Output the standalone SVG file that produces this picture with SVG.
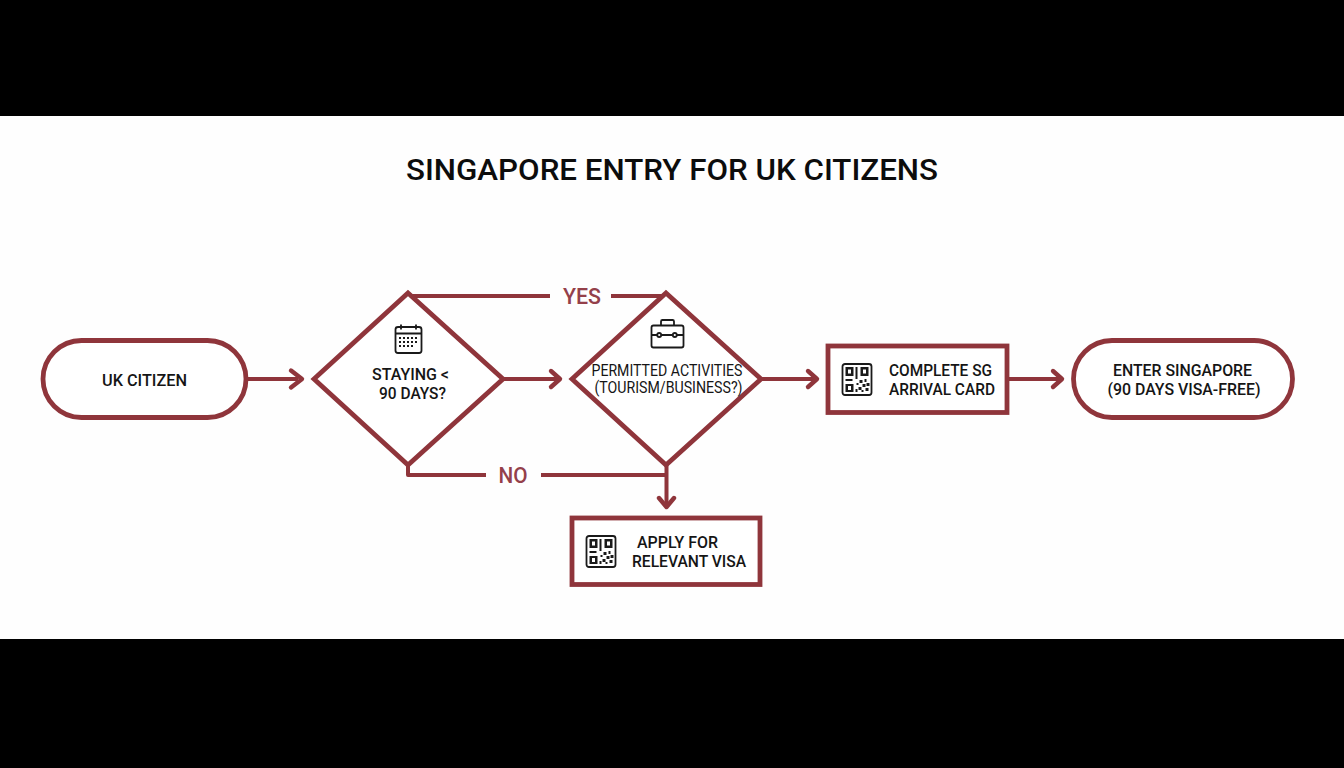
<svg xmlns="http://www.w3.org/2000/svg" width="1344" height="768" viewBox="0 0 1344 768">
<style>
.s{fill:#fff;stroke:#8f353b;stroke-width:4.8;stroke-linejoin:miter}
.c{fill:none;stroke:#8f353b;stroke-width:4;stroke-linejoin:round}
.h{fill:none;stroke:#8f353b;stroke-width:4.4;stroke-linecap:round;stroke-linejoin:round}
text{font-family:Roboto,"Liberation Sans",sans-serif;font-weight:500;fill:#151515;font-size:16px;text-anchor:middle}
.l{font-size:22px;fill:#94404a;font-weight:500}
.t{font-size:30px;font-weight:500;fill:#0c0c0c}
.i{fill:none;stroke:#1a1a1a;stroke-width:1.8;stroke-linejoin:round}
.f{fill:#1a1a1a}
</style>
<defs>
<g id="qr">
<rect class="i" x="1" y="1" width="29" height="31" rx="2.5"/>
<path class="f" d="M4 4h8v9H4zM19 4h8v9h-8zM4 21h8v8H4z"/>
<path d="M6.500 6.500h3v4h-3zM21.500 6.500h3v4h-3zM6.500 23h3v4h-3z" fill="#fff"/>
<path class="f" d="M14 4h2v12h-2zM4 16h7v2H4zM15 20h2v2h-2zM18 17h3v3h-3zM23 16h2v3h-2zM21 21h3v3h-3zM25 20h3v3h-3zM17 24h3v3h-3zM24 25h3v3h-3zM14 26h2v3h-2zM20 27h2v2h-2z"/>
</g>
</defs>
<rect width="1344" height="768" fill="#fefefe"/>
<rect width="1344" height="116" fill="#000"/>
<rect y="639" width="1344" height="129" fill="#000"/>
<text id="title" class="t" x="672" y="180" textLength="532" lengthAdjust="spacingAndGlyphs">SINGAPORE ENTRY FOR UK CITIZENS</text>

<g id="connectors">
<path class="c" d="M246 379H298"/>
<path class="h" d="M291 370.500L302 379L291 387.500"/>
<path class="c" d="M503 379H557"/>
<path class="h" d="M551 371L560 379L551 387"/>
<path class="c" d="M761 379H816"/>
<path class="h" d="M808 371L817 379L808 387"/>
<path class="c" d="M1008 379H1060"/>
<path class="h" d="M1053 371L1062 379L1053 387"/>
<path class="c" d="M408 296H550M611 296H666"/>
<path class="c" d="M408 465V475H486M541 475H666"/>
<path class="c" d="M666.500 465V506"/>
<path class="h" d="M659 498L666.500 507L674 498"/>
<text class="l" x="582" y="304" textLength="38" lengthAdjust="spacingAndGlyphs">YES</text>
<text class="l" x="513" y="483" textLength="29" lengthAdjust="spacingAndGlyphs">NO</text>
</g>

<g id="uk-citizen">
<rect class="s" x="43" y="340.500" width="203" height="77" rx="38.500"/>
<text x="144.500" y="386" textLength="85" lengthAdjust="spacingAndGlyphs">UK CITIZEN</text>
</g>

<g id="staying">
<path class="s" d="M408 293L503 379L408 465L314 379Z"/>
<g class="i">
<rect x="395.500" y="327" width="26" height="26" rx="2.500"/>
<path d="M395.500 333.500H421.500M401 324.500V329.500M416 324.500V329.500"/>
</g>
<path class="f" d="M399 337h2v2h-2zM403 337h2v2h-2zM407 337h2v2h-2zM411 337h2v2h-2zM415 337h2v2h-2zM399 341h2v2h-2zM403 341h2v2h-2zM407 341h2v2h-2zM411 341h2v2h-2zM415 341h2v2h-2zM399 345h2v2h-2zM403 345h2v2h-2zM407 345h2v2h-2zM411 345h2v2h-2z"/>
<text x="410.500" y="380" textLength="77" lengthAdjust="spacingAndGlyphs">STAYING &lt;</text>
<text x="412.500" y="399" textLength="67" lengthAdjust="spacingAndGlyphs">90 DAYS?</text>
</g>

<g id="permitted">
<path class="s" d="M666 293L761 379L666 465L572 379Z"/>
<g class="i">
<rect x="651.500" y="325.500" width="32" height="22" rx="2"/>
<path d="M661 325.500V321.500Q661 320 662.500 320H672.500Q674 320 674 321.500V325.500M651.500 335H657M661.500 335H672M677 335H683.500"/>
<circle cx="659.200" cy="335" r="2"/>
<circle cx="674.800" cy="335" r="2"/>
</g>
<text x="667" y="376" textLength="151" lengthAdjust="spacingAndGlyphs" style="font-weight:400">PERMITTED ACTIVITIES</text>
<text x="668.500" y="393" textLength="148" lengthAdjust="spacingAndGlyphs" style="font-weight:400">(TOURISM/BUSINESS?)</text>
</g>

<g id="arrival-card">
<rect class="s" x="828" y="346" width="179" height="66.500"/>
<use href="#qr" x="841.500" y="363"/>
<text x="940.500" y="375.500" textLength="103" lengthAdjust="spacingAndGlyphs">COMPLETE SG</text>
<text x="942" y="395" textLength="106" lengthAdjust="spacingAndGlyphs">ARRIVAL CARD</text>
</g>

<g id="enter">
<rect class="s" x="1073.500" y="340.500" width="219" height="77" rx="38.500"/>
<text x="1182.500" y="375.500" textLength="139" lengthAdjust="spacingAndGlyphs">ENTER SINGAPORE</text>
<text x="1184" y="395" textLength="153" lengthAdjust="spacingAndGlyphs">(90 DAYS VISA-FREE)</text>
</g>

<g id="visa">
<rect class="s" x="572" y="518" width="188" height="66.500"/>
<use href="#qr" x="585.500" y="535"/>
<text x="677.500" y="548" textLength="81" lengthAdjust="spacingAndGlyphs">APPLY FOR</text>
<text x="689" y="567" textLength="114" lengthAdjust="spacingAndGlyphs">RELEVANT VISA</text>
</g>
</svg>
